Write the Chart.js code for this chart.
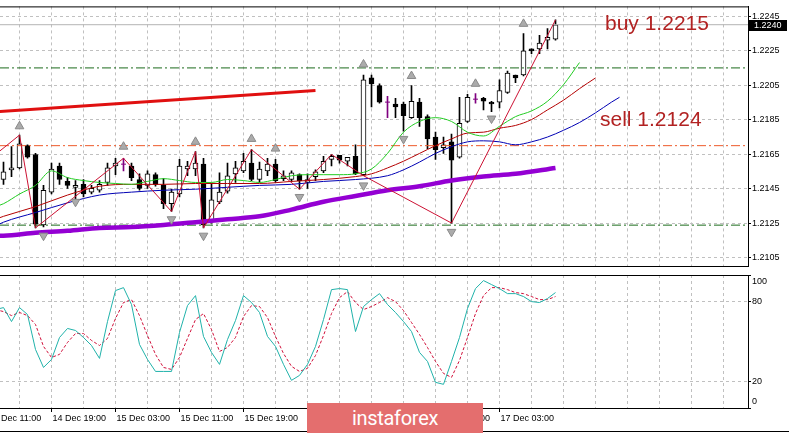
<!DOCTYPE html>
<html lang="en">
<head>
<meta charset="UTF-8">
<title>EURUSD H1</title>
<script src="https://cdn.jsdelivr.net/npm/chart.js@4.4.1/dist/chart.umd.min.js"></script>
<style>
  body { margin: 0; background: #ffffff; font-family: 'Liberation Sans', Arial, sans-serif; }
  #wrap { position: relative; width: 789px; height: 434px; overflow: hidden; background: #fff; }
  #mainChart { position: absolute; left: 0; top: 0; }
  #stochChart { position: absolute; left: 0; top: 272px; }
  .note { position: absolute; color: #b22222; font-size: 21px; line-height: 21px; white-space: nowrap; }
  #buyNote { left: 605px; top: 12px; }
  #sellNote { left: 600px; top: 108px; }
  #bottomEdge { position: absolute; left: 0; top: 431px; width: 789px; height: 1px; background: #000; }
  #watermark {
    position: absolute; left: 307px; top: 403px; width: 176px; height: 30px;
    background: #e46e6e; color: #fff; font-family: Roboto, sans-serif; font-size: 20px;
    letter-spacing: -0.3px; display: flex; align-items: center; justify-content: center;
  }
</style>
</head>
<body>
<div id="wrap">
  <canvas id="mainChart" width="789" height="273"></canvas>
  <canvas id="stochChart" width="789" height="162"></canvas>
  <div class="note" id="buyNote">buy 1.2215</div>
  <div class="note" id="sellNote">sell 1.2124</div>
  <div id="bottomEdge"></div>
  <div id="watermark">instaforex</div>
</div>

<script>
  // hourly candles, bar 0 = 14 Dec 13:00
  const opens = [
    1.21504, 1.21560, 1.21571, 1.21700, 1.21649, 1.21241, 1.21431, 1.21582, 1.21493, 1.21459,
    1.21476, 1.21431, 1.21442, 1.21487, 1.21582, 1.21593, 1.21582, 1.21504, 1.21470, 1.21532,
    1.21470, 1.21364, 1.21420, 1.21565, 1.21565, 1.21593, 1.21263, 1.21375, 1.21437, 1.21537,
    1.21554, 1.21599, 1.21504, 1.21554, 1.21593, 1.21509, 1.21504, 1.21532, 1.21487, 1.21521,
    1.21554, 1.21621, 1.21644, 1.21610, 1.21638, 1.21532, 1.22092, 1.22047, 1.21952, 1.21941,
    1.21941, 1.21862, 1.21952, 1.21868, 1.21750, 1.21689, 1.21722, 1.21633, 1.21840, 1.21969,
    1.21974, 1.21952, 1.21952, 1.22008, 1.22109, 1.22109, 1.22260, 1.22260, 1.22310, 1.22316
  ];
  const highs = [
    1.21605, 1.21694, 1.21761, 1.21705, 1.21655, 1.21470, 1.21599, 1.21599, 1.21515, 1.21498,
    1.21504, 1.21470, 1.21498, 1.21599, 1.21627, 1.21627, 1.21599, 1.21537, 1.21554, 1.21543,
    1.21509, 1.21448, 1.21621, 1.21610, 1.21666, 1.21627, 1.21481, 1.21543, 1.21599, 1.21610,
    1.21655, 1.21677, 1.21605, 1.21627, 1.21621, 1.21554, 1.21554, 1.21537, 1.21537, 1.21560,
    1.21638, 1.21649, 1.21644, 1.21633, 1.21705, 1.22109, 1.22109, 1.22058, 1.21985, 1.21974,
    1.21952, 1.22047, 1.21974, 1.21879, 1.21778, 1.21750, 1.21767, 1.21980, 1.21997, 1.22002,
    1.21980, 1.21957, 1.22081, 1.22131, 1.22109, 1.22349, 1.22260, 1.22338, 1.22377, 1.22428
  ];
  const lows = [
    1.21476, 1.21521, 1.21565, 1.21627, 1.21224, 1.21229, 1.21420, 1.21476, 1.21453, 1.21392,
    1.21403, 1.21420, 1.21431, 1.21470, 1.21532, 1.21554, 1.21498, 1.21442, 1.21453, 1.21465,
    1.21336, 1.21319, 1.21403, 1.21526, 1.21526, 1.21224, 1.21252, 1.21364, 1.21425, 1.21487,
    1.21543, 1.21498, 1.21487, 1.21526, 1.21487, 1.21498, 1.21493, 1.21448, 1.21453, 1.21498,
    1.21543, 1.21582, 1.21599, 1.21582, 1.21532, 1.21526, 1.21924, 1.21946, 1.21862, 1.21862,
    1.21784, 1.21857, 1.21812, 1.21683, 1.21621, 1.21655, 1.21252, 1.21627, 1.21834, 1.21946,
    1.21907, 1.21896, 1.21918, 1.22002, 1.22064, 1.22103, 1.22232, 1.22232, 1.22260, 1.22310
  ];
  const closes = [
    1.21549, 1.21571, 1.21711, 1.21633, 1.21246, 1.21442, 1.21565, 1.21504, 1.21470, 1.21470,
    1.21420, 1.21453, 1.21476, 1.21571, 1.21599, 1.21593, 1.21515, 1.21453, 1.21537, 1.21476,
    1.21364, 1.21431, 1.21582, 1.21582, 1.21599, 1.21241, 1.21386, 1.21431, 1.21526, 1.21571,
    1.21610, 1.21504, 1.21565, 1.21593, 1.21498, 1.21526, 1.21543, 1.21498, 1.21504, 1.21549,
    1.21610, 1.21638, 1.21616, 1.21633, 1.21537, 1.22081, 1.22058, 1.21952, 1.21952, 1.21924,
    1.21873, 1.21957, 1.21862, 1.21739, 1.21677, 1.21705, 1.21616, 1.21829, 1.21980, 1.21969,
    1.21957, 1.21941, 1.22019, 1.22120, 1.22092, 1.22249, 1.22249, 1.22293, 1.22327, 1.22400
  ];

  // alligator lines (shifted forward past the last bar)
  const jawBars = [-1, 0, 4, 8, 12, 16, 20, 24, 28, 32, 36, 40, 44, 48, 50, 52, 54, 56, 58, 60, 62, 64, 66, 68, 70, 72, 74, 76, 77];
  const jawVals = [1.21235, 1.21257, 1.21313, 1.21369, 1.21414, 1.21431, 1.21442, 1.21448, 1.21459, 1.21470,
    1.21476, 1.21493, 1.21504, 1.21526, 1.21560, 1.21605, 1.21655, 1.21694, 1.21722, 1.21728,
    1.21722, 1.21705, 1.21722, 1.21750, 1.21789, 1.21834, 1.21890, 1.21952, 1.21980];
  const teethBars = [-1, 0, 4, 8, 12, 16, 20, 24, 28, 32, 36, 40, 44, 46, 48, 50, 52, 54, 56, 58, 60, 62, 64, 66, 68, 70, 72, 74];
  const teethVals = [1.21274, 1.21291, 1.21347, 1.21414, 1.21465, 1.21476, 1.21476, 1.21481, 1.21481, 1.21481,
    1.21493, 1.21504, 1.21521, 1.21537, 1.21571, 1.21610, 1.21655, 1.21700, 1.21739, 1.21773,
    1.21778, 1.21801, 1.21817, 1.21851, 1.21907, 1.21963, 1.22030, 1.22092];
  const lipsBars = [-1, 0, 2, 4, 6, 8, 10, 12, 14, 16, 18, 20, 22, 24, 26, 28, 30, 32, 34, 36, 38, 40, 42, 44, 46, 48, 50, 52, 54, 56, 58, 60, 62, 64, 66, 68, 70, 72];
  const lipsVals = [1.21347, 1.21364, 1.21420, 1.21470, 1.21554, 1.21515, 1.21498, 1.21487, 1.21481, 1.21476,
    1.21493, 1.21509, 1.21498, 1.21487, 1.21487, 1.21504, 1.21498, 1.21487, 1.21504, 1.21526,
    1.21532, 1.21532, 1.21532, 1.21537, 1.21565, 1.21655, 1.21778, 1.21840, 1.21862, 1.21840,
    1.21778, 1.21756, 1.21812, 1.21868, 1.21901, 1.21957, 1.22053, 1.22181];

  // slow moving average (thick purple)
  const slowBars = [-1, 0, 4, 8, 12, 16, 20, 24, 28, 32, 36, 40, 44, 48, 52, 56, 60, 64, 69];
  const slowVals = [1.21179, 1.21179, 1.21196, 1.21207, 1.21224, 1.21229, 1.21241, 1.21257, 1.21274, 1.21291,
    1.21330, 1.21375, 1.21409, 1.21442, 1.21465, 1.21498, 1.21521, 1.21537, 1.21571];

  // zigzag turning points
  const zigBars = [-1, 2, 4, 15, 21, 24, 25, 31, 37, 41, 45, 56, 69];
  const zigVals = [1.21649, 1.21761, 1.21224, 1.21627, 1.21319, 1.21666, 1.21224, 1.21677, 1.21448, 1.21649, 1.21526, 1.21252, 1.22428];

  // fractal arrows
  const fracUpBars = [2, 15, 24, 31, 34, 45, 51, 59, 65];
  const fracUpVals = [1.21812, 1.21694, 1.21722, 1.21739, 1.21683, 1.22170, 1.22103, 1.22058, 1.22405];
  const fracDnBars = [5, 9, 21, 25, 37, 45, 50, 56, 61];
  const fracDnVals = [1.21179, 1.21375, 1.21274, 1.21179, 1.21403, 1.21470, 1.21739, 1.21201, 1.21857];

  // drawn trend line and levels
  const trendBars = [-1, 39];
  const trendVals = [1.21896, 1.22019];
  const buyLevel = 1.2215;
  const midLevel = 1.2170;
  const sellLevel = 1.2124;
  const bidPrice = 1.2240;

  // stochastic, first value at bar -1
  const stochStart = -1;
  const stochMain = [74.0, 75.5, 65.0, 75.5, 70.3, 44.0, 30.5, 36.5, 53.0, 59.8, 58.3, 53.0, 47.0, 37.3, 65.0, 88.3,
    90.5, 77.8, 47.8, 36.5, 27.5, 27.5, 27.5, 56.8, 77.0, 84.5, 53.8, 41.8, 32.8, 51.5, 65.8, 84.5,
    79.3, 71.8, 53.8, 46.3, 32.8, 20.8, 24.5, 32.8, 46.3, 66.5, 89.0, 89.8, 89.0, 57.5, 76.3, 81.5,
    86.0, 77.8, 71.8, 65.0, 57.5, 41.8, 35.0, 19.3, 17.8, 35.0, 53.0, 74.8, 89.8, 95.8, 92.8, 89.8,
    86.0, 86.0, 83.8, 80.0, 79.3, 82.3, 86.8];
  const stochSignal = [74.0, 72.5, 69.5, 71.8, 69.5, 62.8, 46.3, 38.0, 40.3, 49.3, 56.0, 56.0, 50.8, 47.0, 52.3, 67.3,
    79.3, 81.5, 69.5, 54.5, 40.3, 30.5, 29.0, 38.0, 52.3, 66.5, 71.0, 59.0, 42.5, 45.5, 53.0, 68.8,
    77.0, 76.3, 68.0, 53.8, 41.0, 31.3, 27.5, 29.8, 39.5, 54.5, 71.0, 83.0, 87.5, 79.3, 74.0, 76.3,
    79.3, 83.0, 80.0, 73.3, 64.3, 55.3, 45.5, 35.0, 26.0, 23.0, 35.8, 53.0, 71.0, 84.5, 90.5, 90.5,
    89.0, 86.8, 86.0, 83.8, 81.5, 81.5, 83.8];

  // axis labels
  const priceTicks = [1.2105, 1.2125, 1.2145, 1.2165, 1.2185, 1.2205, 1.2225, 1.2245];
  const stochTicks = [0, 20, 80, 100];
  const timeLabels = ['14 Dec 11:00', '14 Dec 19:00', '15 Dec 03:00', '15 Dec 11:00', '15 Dec 19:00',
    '16 Dec 03:00', '16 Dec 11:00', '16 Dec 19:00', '17 Dec 03:00'];
  const timeLabelBars = [-2, 6, 14, 22, 30, 38, 46, 54, 62];

  const xMin = -0.4375, xMax = 93.0625;
  const yMin = 1.2100, yMax = 1.22506;
  const gridBars = [];
  for (let b = 2; b <= 90; b += 4) gridBars.push(b);

  Chart.defaults.font.family = "'Liberation Sans', Arial, sans-serif";
  Chart.defaults.font.size = 9;
  Chart.defaults.color = '#000';

  const pts = (bars, vals) => bars.map((b, i) => ({ x: b, y: vals[i] }));
  const flat = v => [{ x: xMin, y: v }, { x: xMax, y: v }];
  const isDoji = i => opens[i] === closes[i];

  const wickData = opens.map((o, i) => ({ x: i, y: [lows[i], highs[i]] }));
  const bodyData = [];
  const dojiData = [];
  opens.forEach((o, i) => {
    if (isDoji(i)) dojiData.push({ x: i, y: o });
    else bodyData.push({ x: i, y: [o, closes[i]], up: closes[i] > o });
  });

  // keep the plot edge-to-edge even when the first time label hangs off the left
  const noSidePad = s => { s.paddingLeft = 0; s.paddingRight = 0; };

  const topFrame = {
    id: 'topFrame',
    afterDraw(chart) {
      const { ctx, chartArea: a } = chart;
      ctx.save();
      ctx.strokeStyle = '#000';
      ctx.lineWidth = 1;
      ctx.beginPath();
      ctx.moveTo(0, a.top + 0.5);
      ctx.lineTo(a.right, a.top + 0.5);
      ctx.stroke();
      ctx.restore();
    }
  };

  const bidTag = {
    id: 'bidTag',
    afterDraw(chart) {
      const { ctx, chartArea: a, scales } = chart;
      const py = Math.round(scales.y.getPixelForValue(bidPrice));
      ctx.save();
      ctx.fillStyle = '#000';
      ctx.fillRect(a.right + 1, py - 5, 38, 11);
      ctx.fillStyle = '#fff';
      ctx.font = "9px 'Liberation Sans', Arial";
      ctx.textBaseline = 'middle';
      ctx.fillText(bidPrice.toFixed(4), a.right + 6, py + 0.5);
      ctx.restore();
    }
  };

  const stochLabels = {
    id: 'stochLabels',
    afterDraw(chart) {
      const { ctx, chartArea: a, scales } = chart;
      ctx.save();
      ctx.fillStyle = '#000';
      ctx.font = "9px 'Liberation Sans', Arial";
      ctx.textBaseline = 'middle';
      stochTicks.forEach(v => {
        let py = scales.y.getPixelForValue(v);
        if (v === 100) py += 7;
        if (v === 0) py -= 6;
        ctx.fillText(String(v), a.right + 4, py);
      });
      ctx.restore();
    }
  };

  new Chart(document.getElementById('mainChart'), {
    type: 'bar',
    data: {
      datasets: [
        {
          type: 'bar', data: wickData, grouped: false, barThickness: 1, maxBarThickness: 1,
          backgroundColor: c => (c.raw && isDoji(c.raw.x)) ? '#800080' : '#000', borderWidth: 0, order: 20
        },
        {
          type: 'bar', data: bodyData, grouped: false, barThickness: 5, maxBarThickness: 5,
          backgroundColor: c => (c.raw && c.raw.up) ? '#fff' : '#000',
          borderColor: '#000', borderWidth: 1, borderSkipped: false, order: 19
        },
        {
          type: 'scatter', data: dojiData, pointStyle: 'line', pointRadius: 2.5,
          pointBorderColor: '#800080', pointBorderWidth: 1, borderColor: '#800080', order: 18
        },
        { type: 'line', data: flat(bidPrice), borderColor: '#b4b4b4', borderWidth: 1, pointRadius: 0, order: 16 },
        { type: 'line', data: flat(buyLevel), borderColor: '#1b6b1b', borderWidth: 1, borderDash: [9, 3, 2, 3], pointRadius: 0, order: 15 },
        { type: 'line', data: flat(midLevel), borderColor: '#ee5a2a', borderWidth: 1, borderDash: [9, 3, 2, 3], pointRadius: 0, order: 15 },
        { type: 'line', data: flat(sellLevel), borderColor: '#1b6b1b', borderWidth: 1, borderDash: [9, 3, 2, 3], pointRadius: 0, order: 15 },
        { type: 'line', data: pts(slowBars, slowVals), borderColor: '#9400d3', borderWidth: 4.5, pointRadius: 0, cubicInterpolationMode: 'monotone', order: 12 },
        { type: 'line', data: pts(jawBars, jawVals), borderColor: '#0000b4', borderWidth: 1, pointRadius: 0, cubicInterpolationMode: 'monotone', order: 11 },
        { type: 'line', data: pts(teethBars, teethVals), borderColor: '#b40000', borderWidth: 1, pointRadius: 0, cubicInterpolationMode: 'monotone', order: 10 },
        { type: 'line', data: pts(lipsBars, lipsVals), borderColor: '#22cc22', borderWidth: 1, pointRadius: 0, cubicInterpolationMode: 'monotone', order: 9 },
        { type: 'line', data: pts(trendBars, trendVals), borderColor: '#e01010', borderWidth: 3, pointRadius: 0, order: 8 },
        { type: 'line', data: pts(zigBars, zigVals), borderColor: '#cc1133', borderWidth: 1, pointRadius: 0, tension: 0, order: 7 },
        {
          type: 'scatter', data: pts(fracUpBars, fracUpVals), pointStyle: 'triangle', pointRadius: 5,
          pointBackgroundColor: '#ababab', pointBorderColor: '#8a8a8a', pointBorderWidth: 1, order: 5
        },
        {
          type: 'scatter', data: pts(fracDnBars, fracDnVals), pointStyle: 'triangle', pointRadius: 5, pointRotation: 180,
          pointBackgroundColor: '#ababab', pointBorderColor: '#8a8a8a', pointBorderWidth: 1, order: 5
        }
      ]
    },
    options: {
      responsive: false,
      animation: false,
      events: [],
      layout: { padding: { top: 3, bottom: 1, left: 0, right: 0 }, autoPadding: false },
      plugins: { legend: { display: false }, tooltip: { enabled: false } },
      scales: {
        x: {
          type: 'linear', min: xMin, max: xMax, offset: false,
          afterFit: s => { s.height = 0; noSidePad(s); },
          afterBuildTicks: s => { s.ticks = gridBars.map(v => ({ value: v })); },
          ticks: { display: false },
          grid: { color: '#c0c0c0', drawTicks: false, offset: false },
          border: { display: true, color: '#000', dash: [3, 3] }
        },
        y: {
          position: 'right', min: yMin, max: yMax,
          afterFit: s => { s.width = 41; },
          afterBuildTicks: s => { s.ticks = priceTicks.map(v => ({ value: v })); },
          ticks: { callback: v => Number(v).toFixed(4), padding: 1, color: '#000' },
          grid: { color: '#c0c0c0', tickColor: '#000', tickLength: 3 },
          border: { display: true, color: '#000', dash: [3, 3] }
        }
      }
    },
    plugins: [topFrame, bidTag]
  });

  new Chart(document.getElementById('stochChart'), {
    type: 'line',
    data: {
      datasets: [
        {
          data: stochMain.map((v, i) => ({ x: i + stochStart, y: v })),
          borderColor: '#20b2aa', borderWidth: 1, pointRadius: 0, tension: 0
        },
        {
          data: stochSignal.map((v, i) => ({ x: i + stochStart, y: v })),
          borderColor: '#d0103a', borderWidth: 1, borderDash: [3, 2], pointRadius: 0, tension: 0
        }
      ]
    },
    options: {
      responsive: false,
      animation: false,
      events: [],
      layout: { padding: { top: 3, bottom: 0, left: 0, right: 0 }, autoPadding: false },
      plugins: { legend: { display: false }, tooltip: { enabled: false } },
      scales: {
        x: {
          type: 'linear', min: xMin, max: xMax, offset: false,
          afterFit: s => { s.height = 26; noSidePad(s); },
          afterBuildTicks: s => { s.ticks = [-2].concat(gridBars).map(v => ({ value: v })); },
          ticks: {
            autoSkip: false, maxRotation: 0, minRotation: 0, align: 'start', padding: 1, labelOffset: 1,
            callback: v => {
              const i = timeLabelBars.indexOf(v);
              return i >= 0 ? timeLabels[i] : '';
            }
          },
          grid: {
            color: '#c0c0c0', tickLength: 4,
            tickColor: c => (c.tick && timeLabelBars.includes(c.tick.value)) ? '#000' : 'rgba(0,0,0,0)'
          },
          border: { display: true, color: '#000', dash: [3, 3] }
        },
        y: {
          position: 'right', min: 0, max: 100,
          afterFit: s => { s.width = 41; },
          afterBuildTicks: s => { s.ticks = stochTicks.map(v => ({ value: v })); },
          ticks: { display: false },
          grid: {
            color: c => (c.tick && (c.tick.value === 20 || c.tick.value === 80)) ? '#c0c0c0' : 'rgba(0,0,0,0)',
            tickColor: '#000', tickLength: 3
          },
          border: { display: true, color: '#000', dash: [3, 3] }
        }
      }
    },
    plugins: [topFrame, stochLabels]
  });
</script>
</body>
</html>
